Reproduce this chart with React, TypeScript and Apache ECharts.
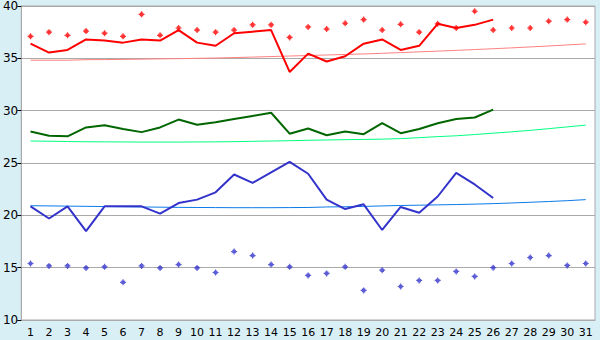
import React, { useEffect, useRef } from "react";
import * as echarts from "echarts";

const days = Array.from({ length: 31 }, (_, i) => String(i + 1));

const redLine = [36.4, 35.55, 35.8, 36.8, 36.7, 36.5, 36.8, 36.7, 37.7, 36.5, 36.2, 37.4, 37.55, 37.7, 33.7, 35.45, 34.7, 35.2, 36.4, 36.8, 35.8, 36.2, 38.3, 37.9, 38.2, 38.7];
const redPoints = [37.1, 37.5, 37.2, 37.6, 37.4, 37.1, 39.2, 37.2, 37.9, 37.7, 37.5, 37.7, 38.2, 38.2, 37.0, 38.0, 37.8, 38.35, 38.7, 37.7, 38.25, 37.5, 38.3, 37.9, 39.5, 37.7, 37.9, 37.9, 38.55, 38.7, 38.45];
const redTrend = [34.82, 34.82, 34.82, 34.87, 34.88, 34.9, 34.92, 34.95, 34.97, 35.0, 35.03, 35.07, 35.12, 35.17, 35.22, 35.27, 35.32, 35.37, 35.42, 35.48, 35.55, 35.62, 35.69, 35.76, 35.84, 35.92, 36.0, 36.09, 36.18, 36.28, 36.38];

const greenLine = [28.0, 27.6, 27.55, 28.4, 28.6, 28.25, 27.95, 28.4, 29.15, 28.65, 28.9, 29.2, 29.5, 29.8, 27.8, 28.3, 27.65, 28.0, 27.75, 28.8, 27.85, 28.25, 28.8, 29.2, 29.35, 30.1];
const greenTrend = [27.1, 27.08, 27.05, 27.03, 27.02, 27.01, 27.0, 27.0, 27.0, 27.01, 27.02, 27.04, 27.07, 27.1, 27.13, 27.17, 27.2, 27.23, 27.25, 27.28, 27.33, 27.42, 27.52, 27.6, 27.72, 27.85, 27.98, 28.12, 28.28, 28.45, 28.62];

const blueLine = [20.86, 19.7, 20.86, 18.5, 20.86, 20.86, 20.86, 20.16, 21.17, 21.5, 22.2, 23.9, 23.1, 24.1, 25.1, 23.97, 21.5, 20.6, 21.05, 18.6, 20.8, 20.25, 21.8, 24.06, 22.95, 21.65];
const bluePoints = [15.4, 15.17, 15.17, 14.98, 15.08, 13.6, 15.17, 14.98, 15.3, 14.98, 14.54, 16.54, 16.16, 15.3, 15.08, 14.26, 14.45, 15.08, 12.83, 14.76, 13.2, 13.78, 13.78, 14.64, 14.16, 15.0, 15.4, 15.97, 16.16, 15.21, 15.4];
const blueTrend = [20.92, 20.9, 20.88, 20.86, 20.84, 20.82, 20.8, 20.78, 20.76, 20.75, 20.74, 20.73, 20.73, 20.73, 20.74, 20.75, 20.8, 20.82, 20.85, 20.9, 20.94, 20.97, 21.0, 21.03, 21.07, 21.12, 21.18, 21.25, 21.32, 21.4, 21.5];

const MARK = "path://M2,0 H3 V1 H4 V2 H5 V3 H4 V4 H3 V5 H2 V4 H1 V3 H0 V2 H1 V1 H2 Z";

export default function App() {
  const ref = useRef<HTMLDivElement>(null);
  useEffect(() => {
    document.body.style.margin = "0";
    const chart = echarts.init(ref.current!, null, { renderer: "svg" });
    const lineS = (data: number[], color: string, width: number, z = 3) => ({
      type: "line",
      data,
      showSymbol: false,
      symbol: "none",
      lineStyle: { color, width },
      z,
    });
    const ptS = (data: number[], color: string) => ({
      type: "scatter",
      data,
      symbol: MARK,
      symbolSize: 6,
      itemStyle: { color },
      z: 4,
    });
    chart.setOption({
      animation: false,
      backgroundColor: "#D9EFF6",
      textStyle: { fontFamily: "DejaVu Sans" },
      grid: {
        left: 20,
        right: 5,
        top: 5,
        bottom: 20,
        show: true,
        backgroundColor: "#FFFFFF",
        borderColor: "#AAAAAA",
        borderWidth: 1,
      },
      xAxis: {
        type: "category",
        data: days,
        boundaryGap: true,
        axisLine: { lineStyle: { color: "#AAAAAA" } },
        axisTick: { alignWithLabel: true, length: 5, lineStyle: { color: "#000000" } },
        axisLabel: { color: "#000000", fontSize: 11, margin: 7, interval: 0 },
        splitLine: { show: false },
      },
      yAxis: {
        type: "value",
        min: 10,
        max: 40,
        interval: 5,
        axisLine: { show: true, lineStyle: { color: "#AAAAAA" } },
        axisTick: { show: true, length: 4, lineStyle: { color: "#000000" } },
        axisLabel: { color: "#000000", fontSize: 12, margin: 3 },
        splitLine: { lineStyle: { color: "#AAAAAA" } },
      },
      series: [
        lineS(redTrend, "#FF8080", 1, 2),
        lineS(greenTrend, "#00FF80", 1, 2),
        lineS(blueTrend, "#0A7AE8", 1, 2),
        lineS(redLine, "#FF0000", 2),
        lineS(greenLine, "#006600", 2),
        lineS(blueLine, "#3333CC", 2),
        ptS(redPoints, "#FF0000"),
        ptS(bluePoints, "#3333CC"),
      ],
    });
    return () => chart.dispose();
  }, []);
  return <div ref={ref} style={{ width: 600, height: 340 }} />;
}
